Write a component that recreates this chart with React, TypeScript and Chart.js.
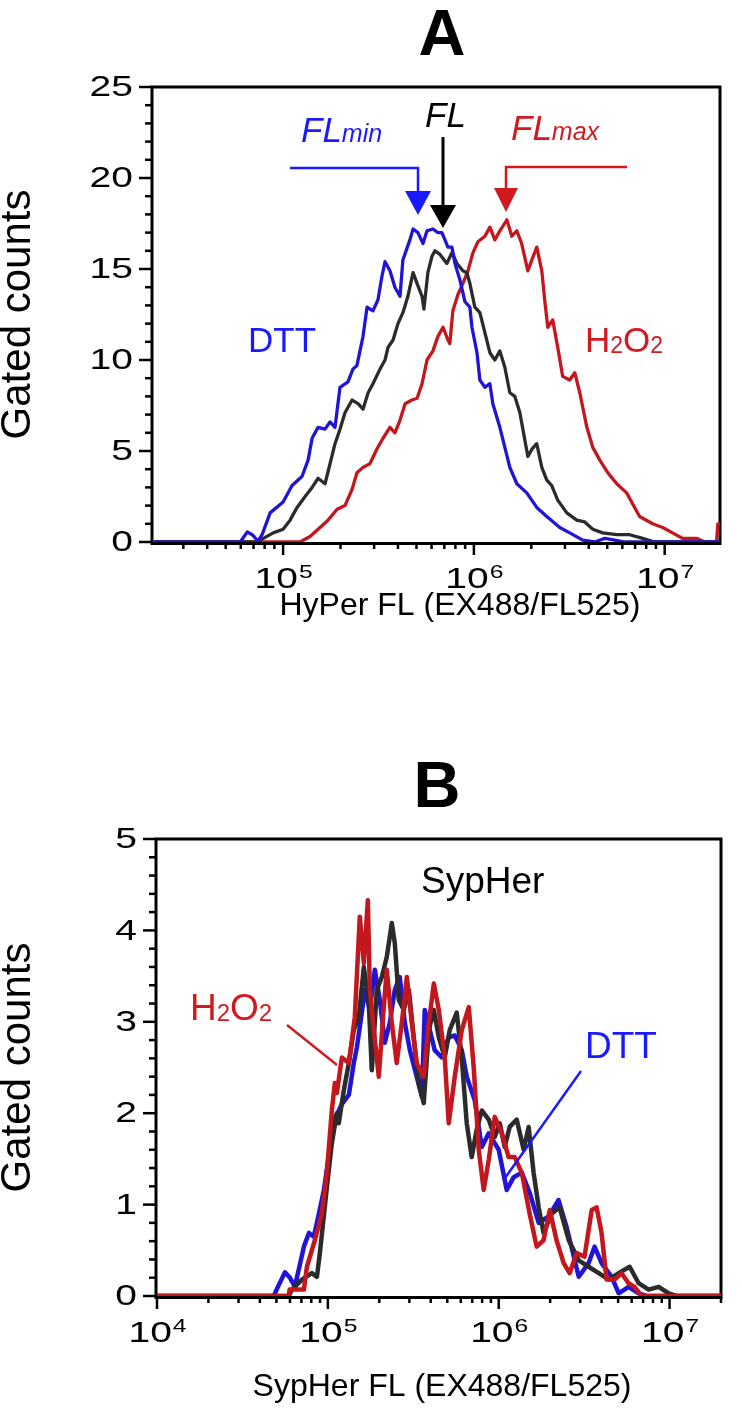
import React, { useEffect, useRef } from 'react';
import { Chart, registerables } from 'chart.js';

Chart.register(...registerables);

const FONT = '"Liberation Sans", Arial, Helvetica, sans-serif';
const BLUE_LINE = '#2014d8';
const BLUE_TEXT = '#1a1aff';
const RED_LINE = '#c3161d';
const RED_TEXT = '#d2191f';
const DARK_LINE = '#2b2b2b';

// ---------- Panel A (HyPer) : [fluorescence, gated counts] ----------
const aDtt: number[][] = [
  [2.1e4, 0], [5.96e4, 0], [6.49e4, 0.55], [6.89e4, 0.4], [7.39e4, 0.05], [7.76e4, 0.4], [8.55e4, 1.6],
  [1.0e5, 2.2], [1.114e5, 3.1], [1.256e5, 3.6], [1.352e5, 4.5], [1.419e5, 5.7], [1.524e5, 6.3],
  [1.659e5, 6.2], [1.762e5, 6.6], [1.871e5, 6.3], [1.987e5, 8.5], [2.188e5, 8.8], [2.323e5, 9.5],
  [2.438e5, 9.7], [2.624e5, 11.3], [2.754e5, 12.9], [2.958e5, 12.7], [3.141e5, 13.3], [3.297e5, 14.6],
  [3.421e5, 15.4], [3.632e5, 14.9], [3.855e5, 14.0], [4.10e5, 13.5], [4.246e5, 15.5], [4.62e5, 16.6],
  [4.80e5, 17.2], [5.09e5, 17.0], [5.41e5, 16.4], [5.68e5, 17.1], [6.10e5, 17.2], [6.48e5, 17.0],
  [6.80e5, 17.0], [7.31e5, 16.2], [7.67e5, 16.2], [7.96e5, 15.3], [8.45e5, 14.4], [8.98e5, 13.2],
  [9.53e5, 12.9], [9.77e5, 11.8], [1.038e6, 10.4], [1.075e6, 8.9], [1.142e6, 8.5], [1.213e6, 8.7],
  [1.257e6, 7.6], [1.368e6, 6.3], [1.453e6, 5.2], [1.543e6, 4.1], [1.679e6, 3.2], [1.893e6, 2.7],
  [2.136e6, 1.9], [2.41e6, 1.4], [2.82e6, 0.8], [3.18e6, 0.5], [3.72e6, 0.1], [4.30e6, 0],
  [4.86e6, 0.2], [5.47e6, 0.1], [6.18e6, 0], [1.95e7, 0],
];
const aControl: number[][] = [
  [2.1e4, 0], [7.39e4, 0], [7.59e4, 0.1], [8.87e4, 0.5], [1.0e5, 0.7], [1.088e5, 1.2], [1.184e5, 1.9],
  [1.304e5, 2.5], [1.419e5, 3.0], [1.524e5, 3.5], [1.659e5, 3.2], [1.762e5, 4.3], [1.871e5, 5.4],
  [1.987e5, 6.2], [2.11e5, 7.1], [2.30e5, 7.8], [2.47e5, 7.6], [2.624e5, 7.3], [2.79e5, 8.2],
  [2.958e5, 8.7], [3.22e5, 9.5], [3.421e5, 10.0], [3.55e5, 10.7], [3.77e5, 11.1], [4.00e5, 12.0],
  [4.246e5, 12.6], [4.51e5, 13.5], [4.80e5, 14.8], [5.04e5, 14.2], [5.35e5, 13.5], [5.47e5, 12.8],
  [5.74e5, 14.8], [6.03e5, 15.7], [6.25e5, 16.0], [6.64e5, 15.8], [7.22e5, 15.3], [7.67e5, 15.9],
  [8.15e5, 15.3], [8.75e5, 14.9], [9.19e5, 14.8], [9.53e5, 14.2], [1.012e6, 12.9], [1.075e6, 12.6],
  [1.142e6, 11.5], [1.213e6, 10.4], [1.288e6, 10.0], [1.368e6, 10.5], [1.453e6, 9.6], [1.543e6, 8.2],
  [1.64e6, 8.0], [1.742e6, 7.1], [1.85e6, 5.6], [1.918e6, 4.7], [2.014e6, 5.1], [2.136e6, 5.4],
  [2.27e6, 4.1], [2.41e6, 3.4], [2.56e6, 3.1], [2.75e6, 2.3], [3.07e6, 1.6], [3.46e6, 1.2],
  [3.81e6, 1.1], [4.20e6, 0.7], [4.73e6, 0.5], [5.61e6, 0.4], [6.56e6, 0.4], [7.67e6, 0.2],
  [8.87e6, 0], [1.95e7, 0],
];
const aH2O2: number[][] = [
  [2.1e4, 0], [1.227e5, 0], [1.384e5, 0.3], [1.563e5, 0.8], [1.72e5, 1.2], [1.919e5, 1.8], [2.11e5, 2.0],
  [2.30e5, 2.9], [2.438e5, 3.8], [2.624e5, 4.1], [2.85e5, 4.3], [3.10e5, 5.1], [3.34e5, 5.7],
  [3.632e5, 6.3], [3.855e5, 6.0], [4.10e5, 6.7], [4.36e5, 7.6], [4.73e5, 7.8], [5.04e5, 7.9],
  [5.35e5, 8.7], [5.68e5, 10.0], [6.10e5, 10.5], [6.48e5, 11.3], [6.89e5, 11.8], [7.31e5, 11.1],
  [7.48e5, 10.9], [7.76e5, 12.7], [8.25e5, 13.6], [8.75e5, 14.2], [9.31e5, 14.9], [9.89e5, 15.9],
  [1.05e6, 16.5], [1.142e6, 16.8], [1.213e6, 17.3], [1.288e6, 16.6], [1.368e6, 17.1], [1.49e6, 17.7],
  [1.58e6, 16.8], [1.679e6, 17.1], [1.78e6, 16.4], [1.918e6, 14.9], [2.014e6, 15.5], [2.136e6, 16.2],
  [2.27e6, 14.9], [2.35e6, 13.3], [2.44e6, 11.8], [2.59e6, 12.2], [2.75e6, 10.7], [2.92e6, 9.1],
  [3.18e6, 8.9], [3.38e6, 9.3], [3.59e6, 8.2], [3.91e6, 6.3], [4.20e6, 5.2], [4.57e6, 4.5],
  [5.04e6, 3.8], [5.61e6, 3.2], [6.32e6, 2.7], [6.79e6, 2.1], [7.39e6, 1.4], [8.65e6, 1.0],
  [9.77e6, 0.8], [1.10e7, 0.5], [1.24e7, 0.2], [1.47e7, 0.2], [1.62e7, 0], [1.87e7, 0],
  [1.9e7, 1.0], [1.95e7, 1.0],
];

// ---------- Panel B (SypHer) ----------
const bDtt: number[][] = [
  [1e4, 0], [4.83e4, 0], [5.10e4, 0.1], [5.61e4, 0.26], [6.0e4, 0.2], [6.41e4, 0.1], [7.24e4, 0.54],
  [7.75e4, 0.69], [8.28e4, 0.65], [8.86e4, 0.9], [9.48e4, 1.16], [1.01e5, 1.52], [1.084e5, 1.93],
  [1.159e5, 2.03], [1.208e5, 2.1], [1.327e5, 2.2], [1.419e5, 2.55], [1.479e5, 2.72], [1.581e5, 3.1],
  [1.644e5, 3.35], [1.761e5, 3.13], [1.883e5, 3.57], [2.014e5, 3.24], [2.154e5, 2.77], [2.305e5, 2.99],
  [2.465e5, 3.35], [2.636e5, 3.49], [2.82e5, 2.99], [3.02e5, 2.69], [3.31e5, 2.4], [3.55e5, 2.18],
  [3.69e5, 3.13], [3.95e5, 2.91], [4.22e5, 2.69], [4.64e5, 2.61], [5.10e5, 2.83], [5.53e5, 2.85],
  [6.08e5, 2.69], [6.50e5, 2.4], [7.24e5, 2.14], [7.96e5, 1.63], [8.74e5, 1.78], [1.0e6, 1.6],
  [1.114e6, 1.16], [1.224e6, 1.3], [1.364e6, 1.35], [1.518e6, 1.13], [1.714e6, 0.8], [1.96e6, 0.87],
  [2.24e6, 1.05], [2.50e6, 0.75], [2.94e6, 0.21], [3.36e6, 0.36], [3.64e6, 0.54], [4.0e6, 0.36],
  [4.58e6, 0.21], [5.04e6, 0.03], [5.75e6, 0.1], [6.59e6, 0.03], [7.33e6, 0], [2e7, 0],
];
const bControl: number[][] = [
  [1e4, 0], [5.91e4, 0], [6.16e4, 0.07], [7.05e4, 0.18], [8.06e4, 0.25], [8.63e4, 0.21], [8.98e4, 0.47],
  [9.87e4, 1.19], [1.055e5, 1.67], [1.129e5, 2.0], [1.159e5, 1.89], [1.24e5, 2.25], [1.327e5, 2.55],
  [1.419e5, 2.91], [1.518e5, 3.05], [1.624e5, 3.6], [1.737e5, 3.2], [1.808e5, 2.47], [1.934e5, 3.35],
  [2.07e5, 3.49], [2.213e5, 3.71], [2.367e5, 4.08], [2.465e5, 3.86], [2.60e5, 3.24], [2.78e5, 3.13],
  [2.98e5, 3.35], [3.18e5, 2.83], [3.40e5, 2.33], [3.64e5, 2.11], [3.90e5, 2.91], [4.17e5, 3.13],
  [4.46e5, 2.83], [4.83e5, 2.61], [5.17e5, 2.91], [5.68e5, 3.1], [6.08e5, 2.6], [6.50e5, 1.89],
  [6.95e5, 1.52], [7.43e5, 1.82], [7.96e5, 2.03], [8.74e5, 1.93], [9.48e5, 1.74], [1.014e6, 1.89],
  [1.084e6, 1.63], [1.159e6, 1.85], [1.274e6, 1.93], [1.40e6, 1.6], [1.497e6, 1.85], [1.60e6, 1.35],
  [1.714e6, 0.97], [1.83e6, 0.69], [2.04e6, 0.9], [2.27e6, 0.97], [2.57e6, 0.61], [2.94e6, 0.39],
  [3.36e6, 0.32], [3.85e6, 0.25], [4.40e6, 0.18], [5.04e6, 0.25], [5.84e6, 0.32], [6.59e6, 0.14],
  [7.54e6, 0.07], [8.63e6, 0.1], [9.86e6, 0.03], [1.1e7, 0], [2e7, 0],
];
const bH2O2: number[][] = [
  [1e4, 0], [5.91e4, 0], [5.97e4, 0.07], [7.24e4, 0.07], [7.54e4, 0.32], [8.39e4, 0.61], [9.22e4, 0.9],
  [9.87e4, 1.35], [1.055e5, 2.03], [1.099e5, 2.33], [1.129e5, 2.22], [1.208e5, 2.61], [1.327e5, 2.55],
  [1.438e5, 3.05], [1.538e5, 4.15], [1.624e5, 3.64], [1.714e5, 4.33], [1.761e5, 3.35], [1.858e5, 2.91],
  [1.987e5, 2.4], [2.125e5, 3.16], [2.213e5, 3.57], [2.367e5, 2.99], [2.53e5, 2.55], [2.71e5, 2.99],
  [2.90e5, 3.49], [3.10e5, 2.99], [3.31e5, 2.55], [3.64e5, 2.4], [3.90e5, 2.99], [4.17e5, 3.42],
  [4.46e5, 3.13], [4.83e5, 2.61], [5.10e5, 1.89], [5.53e5, 2.4], [6.08e5, 2.91], [6.68e5, 3.16],
  [7.14e5, 2.5], [7.64e5, 1.6], [8.17e5, 1.16], [8.74e5, 1.49], [9.48e5, 1.96], [1.042e6, 1.78],
  [1.143e6, 1.52], [1.24e6, 1.52], [1.364e6, 1.35], [1.518e6, 0.9], [1.667e6, 0.54], [1.83e6, 0.61],
  [1.99e6, 0.94], [2.18e6, 0.61], [2.40e6, 0.36], [2.60e6, 0.25], [2.86e6, 0.47], [3.18e6, 0.43],
  [3.50e6, 0.94], [3.74e6, 0.97], [4.0e6, 0.69], [4.28e6, 0.18], [4.77e6, 0.18], [5.24e6, 0.25],
  [5.75e6, 0.14], [6.24e6, 0.1], [6.86e6, 0], [2e7, 0],
];

// ---------- Axis ticks ----------
const aYTicks = [0, 5, 10, 15, 20, 25];
const bYTicks = [0, 1, 2, 3, 4, 5];
const aXTicks = [1e5, 1e6, 1e7];
const aXExp = ['5', '6', '7'];
const bXTicks = [1e4, 1e5, 1e6, 1e7];
const bXExp = ['4', '5', '6', '7'];

type Part = { t: string; size: number; style?: string; dy?: number };

function drawParts(ctx: CanvasRenderingContext2D, parts: Part[], x: number, y: number, color: string) {
  ctx.fillStyle = color;
  ctx.textAlign = 'left';
  ctx.textBaseline = 'alphabetic';
  let cx = x;
  for (const p of parts) {
    ctx.font = `${p.style || 'normal'} ${p.size}px ${FONT}`;
    ctx.fillText(p.t, cx, y + (p.dy || 0));
    cx += ctx.measureText(p.t).width;
  }
}

function arrowDown(ctx: CanvasRenderingContext2D, x: number, yTop: number, yTip: number, half: number, color: string) {
  ctx.fillStyle = color;
  ctx.beginPath();
  ctx.moveTo(x - half, yTop);
  ctx.lineTo(x + half, yTop);
  ctx.lineTo(x, yTip);
  ctx.closePath();
  ctx.fill();
}

function polyline(ctx: CanvasRenderingContext2D, pts: number[][], color: string, w: number) {
  ctx.strokeStyle = color;
  ctx.lineWidth = w;
  ctx.lineJoin = 'miter';
  ctx.beginPath();
  pts.forEach(([x, y], i) => (i ? ctx.lineTo(x, y) : ctx.moveTo(x, y)));
  ctx.stroke();
}

type PanelCfg = {
  height: number;
  padTop: number;
  padRight: number;
  yWidth: number;
  xHeight: number;
  xMin: number;
  xMax: number;
  yMax: number;
  yMinorStep: number;
  yMajorStep: number;
  yTicks: number[];
  xTicks: number[];
  xExp: string[];
  xTitle: string;
  xTitleCx: number;
  xTitleY: number;
  series: { data: number[][]; color: string; label: string }[];
  lineWidth: number;
  annotate: (ctx: CanvasRenderingContext2D) => void;
};

const HS = 1.3; // horizontal stretch of the tick label font

function makeDecor(cfg: PanelCfg) {
  return {
    id: 'decor',
    beforeDatasetsDraw(chart: any) {
      const { ctx, chartArea: a, scales } = chart;
      const xs = scales.x;
      const ys = scales.y;
      ctx.save();
      // frame
      ctx.strokeStyle = '#000';
      ctx.lineWidth = 3;
      ctx.strokeRect(a.left - 1, a.top, a.right - a.left + 1, a.bottom - a.top + 1.5);
      // y ticks
      ctx.lineWidth = 2.5;
      const nY = Math.round(cfg.yMax / cfg.yMinorStep);
      const per = Math.round(cfg.yMajorStep / cfg.yMinorStep);
      for (let i = 0; i <= nY; i++) {
        const v = i * cfg.yMinorStep;
        const py = ys.getPixelForValue(v);
        const major = i % per === 0;
        ctx.beginPath();
        ctx.moveTo(a.left - 1, py);
        ctx.lineTo(a.left - (major ? 14 : 8), py);
        ctx.stroke();
      }
      // x ticks (log decades)
      const e0 = Math.floor(Math.log10(cfg.xMin));
      const e1 = Math.ceil(Math.log10(cfg.xMax));
      for (let e = e0; e <= e1; e++) {
        for (let m = 1; m <= 9; m++) {
          const v = m * Math.pow(10, e);
          if (v < cfg.xMin * 0.999 || v > cfg.xMax * 1.001) continue;
          const px = xs.getPixelForValue(v);
          ctx.beginPath();
          ctx.moveTo(px, a.bottom + 1);
          ctx.lineTo(px, a.bottom + (m === 1 ? 13 : 7));
          ctx.stroke();
        }
      }
      // y tick labels
      ctx.fillStyle = '#000';
      ctx.font = `30px ${FONT}`;
      ctx.textAlign = 'right';
      ctx.textBaseline = 'middle';
      for (const v of cfg.yTicks) {
        const py = ys.getPixelForValue(v);
        ctx.save();
        ctx.translate(a.left - 20, py + 1);
        ctx.scale(HS, 1);
        ctx.fillText(String(v), 0, 0);
        ctx.restore();
      }
      // x tick labels 10^n
      ctx.textAlign = 'left';
      ctx.textBaseline = 'alphabetic';
      cfg.xTicks.forEach((v, i) => {
        const px = xs.getPixelForValue(v);
        ctx.font = `30px ${FONT}`;
        const w1 = ctx.measureText('10').width * HS;
        ctx.font = `19px ${FONT}`;
        const w2 = ctx.measureText(cfg.xExp[i]).width * HS;
        const x0 = px - (w1 + w2) / 2;
        ctx.save();
        ctx.translate(x0, a.bottom + 46);
        ctx.scale(HS, 1);
        ctx.font = `30px ${FONT}`;
        ctx.fillText('10', 0, 0);
        ctx.restore();
        ctx.save();
        ctx.translate(x0 + w1 + 1, a.bottom + 36);
        ctx.scale(HS, 1);
        ctx.font = `19px ${FONT}`;
        ctx.fillText(cfg.xExp[i], 0, 0);
        ctx.restore();
      });
      // x axis title
      ctx.font = `32px ${FONT}`;
      ctx.textAlign = 'center';
      ctx.textBaseline = 'middle';
      ctx.fillText(cfg.xTitle, cfg.xTitleCx, cfg.xTitleY);
      ctx.restore();
    },
    afterDatasetsDraw(chart: any) {
      const { ctx } = chart;
      ctx.save();
      cfg.annotate(ctx);
      ctx.restore();
    },
  };
}

function buildConfig(cfg: PanelCfg): any {
  return {
    type: 'line',
    data: {
      datasets: cfg.series.map((s) => ({
        label: s.label,
        data: s.data.map(([x, y]) => ({ x, y })),
        borderColor: s.color,
        backgroundColor: s.color,
        borderWidth: cfg.lineWidth,
        pointRadius: 0,
        tension: 0,
        fill: false,
        borderJoinStyle: 'round',
      })),
    },
    options: {
      animation: false,
      responsive: false,
      devicePixelRatio: 1,
      events: [],
      layout: { padding: { top: cfg.padTop, right: cfg.padRight, left: 0, bottom: 0 } },
      plugins: { legend: { display: false }, tooltip: { enabled: false } },
      scales: {
        x: {
          type: 'logarithmic',
          min: cfg.xMin,
          max: cfg.xMax,
          grid: { display: false, drawTicks: false },
          border: { display: false },
          ticks: { display: false },
          afterFit: (s: any) => {
            s.height = cfg.xHeight;
          },
          title: { display: false },
        },
        y: {
          type: 'linear',
          min: 0,
          max: cfg.yMax,
          grid: { display: false, drawTicks: false },
          border: { display: false },
          ticks: { display: false },
          afterFit: (s: any) => {
            s.width = cfg.yWidth;
          },
          title: {
            display: true,
            text: 'Gated counts',
            color: '#000',
            font: { family: FONT, size: 42, lineHeight: '36px' },
            padding: { top: 0, bottom: 0 },
          },
        },
      },
    },
    plugins: [makeDecor(cfg)],
  };
}

const panelA: PanelCfg = {
  height: 700,
  padTop: 87,
  padRight: 22,
  yWidth: 153,
  xHeight: 158,
  xMin: 2.08e4,
  xMax: 1.95e7,
  yMax: 25,
  yMinorStep: 1,
  yMajorStep: 5,
  yTicks: aYTicks,
  xTicks: aXTicks,
  xExp: aXExp,
  xTitle: 'HyPer FL (EX488/FL525)',
  xTitleCx: 460,
  xTitleY: 606,
  lineWidth: 3.3,
  series: [
    { label: 'DTT', data: aDtt, color: BLUE_LINE },
    { label: 'Control', data: aControl, color: DARK_LINE },
    { label: 'H2O2', data: aH2O2, color: RED_LINE },
  ],
  annotate: (ctx) => {
    ctx.fillStyle = '#000';
    ctx.font = `bold 65px ${FONT}`;
    ctx.textAlign = 'center';
    ctx.textBaseline = 'alphabetic';
    ctx.fillText('A', 442, 55);
    // FLmin
    drawParts(ctx, [{ t: 'FL', size: 35, style: 'italic' }, { t: 'min', size: 25, style: 'italic' }], 301, 142, BLUE_TEXT);
    polyline(ctx, [[290, 168], [418, 168], [418, 194]], BLUE_TEXT, 2.5);
    arrowDown(ctx, 418, 191, 215, 13, BLUE_TEXT);
    // FL
    drawParts(ctx, [{ t: 'FL', size: 35, style: 'italic' }], 425, 127, '#000');
    polyline(ctx, [[443, 137], [443, 207]], '#000', 3);
    arrowDown(ctx, 443, 205, 228, 13, '#000');
    // FLmax
    drawParts(ctx, [{ t: 'FL', size: 35, style: 'italic' }, { t: 'max', size: 25, style: 'italic' }], 511, 140, RED_TEXT);
    polyline(ctx, [[627, 167], [506, 167], [506, 190]], RED_TEXT, 2.5);
    arrowDown(ctx, 506, 188, 212, 12, RED_TEXT);
    // labels
    drawParts(ctx, [{ t: 'DTT', size: 35 }], 248, 352, BLUE_TEXT);
    drawParts(ctx, [{ t: 'H', size: 35 }, { t: '2', size: 23, dy: 1 }, { t: 'O', size: 35 }, { t: '2', size: 23, dy: 1 }], 585, 352, RED_TEXT);
  },
};

const panelB: PanelCfg = {
  height: 710,
  padTop: 139,
  padRight: 21,
  yWidth: 157,
  xHeight: 114,
  xMin: 1e4,
  xMax: 2e7,
  yMax: 5,
  yMinorStep: 0.2,
  yMajorStep: 1,
  yTicks: bYTicks,
  xTicks: bXTicks,
  xExp: bXExp,
  xTitle: 'SypHer FL (EX488/FL525)',
  xTitleCx: 442,
  xTitleY: 687,
  lineWidth: 4.5,
  series: [
    { label: 'H2O2', data: bH2O2, color: RED_LINE },
    { label: 'Control', data: bControl, color: DARK_LINE },
    { label: 'DTT', data: bDtt, color: BLUE_LINE },
  ],
  annotate: (ctx) => {
    ctx.fillStyle = '#000';
    ctx.font = `bold 65px ${FONT}`;
    ctx.textAlign = 'center';
    ctx.textBaseline = 'alphabetic';
    ctx.fillText('B', 437, 107);
    drawParts(ctx, [{ t: 'SypHer', size: 37 }], 421, 193, '#000');
    drawParts(ctx, [{ t: 'H', size: 37 }, { t: '2', size: 24, dy: 1 }, { t: 'O', size: 37 }, { t: '2', size: 24, dy: 1 }], 190, 320, RED_TEXT);
    polyline(ctx, [[287, 325], [337, 365]], RED_TEXT, 2.5);
    drawParts(ctx, [{ t: 'DTT', size: 37 }], 585, 358, BLUE_TEXT);
    polyline(ctx, [[581, 371], [505, 478]], BLUE_TEXT, 2.5);
  },
};

function Panel({ cfg, top }: { cfg: PanelCfg; top: number }) {
  const ref = useRef<HTMLCanvasElement>(null);
  useEffect(() => {
    const chart = new Chart(ref.current as HTMLCanvasElement, buildConfig(cfg));
    return () => chart.destroy();
  }, [cfg]);
  return (
    <canvas
      ref={ref}
      width={742}
      height={cfg.height}
      style={{ position: 'absolute', left: 0, top, width: 742, height: cfg.height, display: 'block' }}
    />
  );
}

export default function App() {
  return (
    <div style={{ position: 'absolute', left: 0, top: 0, width: 742, height: 1410, background: '#fff', overflow: 'hidden' }}>
      <Panel cfg={panelA} top={0} />
      <Panel cfg={panelB} top={700} />
    </div>
  );
}
